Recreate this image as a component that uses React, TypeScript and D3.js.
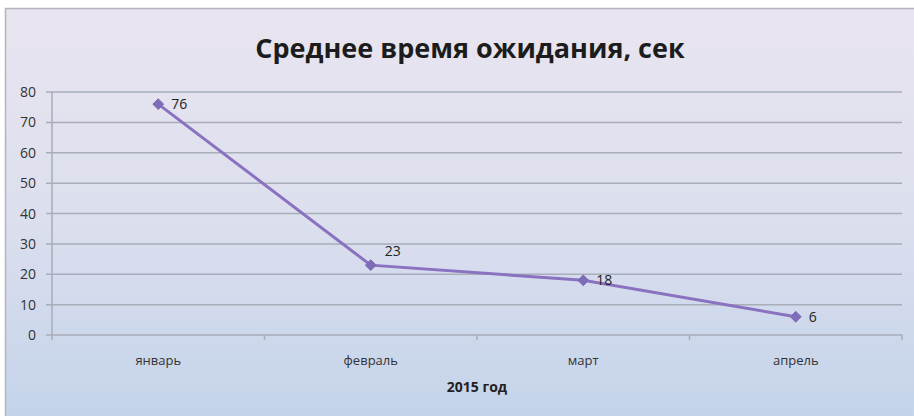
import React from "react";
import * as d3 from "d3";

const categories = ["январь", "февраль", "март", "апрель"];
const values = [76, 23, 18, 6];
const yTicks = [0, 10, 20, 30, 40, 50, 60, 70, 80];
const labelPlacement = ["right", "above", "right", "right"];
const title = "Среднее время ожидания, сек";
const xTitle = "2015 год";

const W = 914;
const H = 416;
const M = { left: 52, right: 902, top: 92, bottom: 335 };

export default function App() {
  const x = d3.scaleBand<string>().domain(categories).range([M.left, M.right]);
  const y = d3.scaleLinear().domain([0, 80]).range([M.bottom, M.top]);
  const pts = values.map((v, i) => [x(categories[i])! + x.bandwidth() / 2, y(v)] as [number, number]);
  const line = d3.line()(pts) ?? "";
  const diamond = d3.symbol().type((d3 as any).symbolDiamond2 ?? d3.symbolDiamond).size(75)() ?? "";
  const font = "'Open Sans', 'DejaVu Sans', sans-serif";
  const boundaries = categories.map((_, i) => M.left + x.step() * i).concat([M.right]);

  return (
    <svg
      width={W}
      height={H}
      style={{ position: "absolute", left: 0, top: 0, display: "block" }}
      fontFamily={font}
    >
      <defs>
        <linearGradient id="bg" x1="0" y1="0" x2="0" y2="1">
          <stop offset="0" stopColor="#e9e5f0" />
          <stop offset="0.5" stopColor="#dcdfee" />
          <stop offset="1" stopColor="#c3d3ea" />
        </linearGradient>
      </defs>
      <rect x={0} y={0} width={W} height={H} fill="#ffffff" />
      <rect x={5.5} y={8.5} width={W} height={H} fill="url(#bg)" stroke="#b4b4bc" strokeWidth={1.5} />
      <text x={470} y={58} textAnchor="middle" fontSize={27} fontWeight="bold" fill="#1c1c1c">
        {title}
      </text>
      {yTicks.map((t) => (
        <g key={t}>
          <line x1={M.left - 6} x2={M.right} y1={y(t)} y2={y(t)} stroke="#a7adb9" strokeWidth={1.5} />
          <text x={36} y={y(t) + 5} textAnchor="end" fontSize={14} fill="#333">
            {t}
          </text>
        </g>
      ))}
      <line x1={M.left} x2={M.left} y1={M.top} y2={M.bottom} stroke="#a7adb9" strokeWidth={1.5} />
      {boundaries.map((b, i) => (
        <line key={i} x1={b} x2={b} y1={M.bottom} y2={M.bottom + 5} stroke="#a7adb9" strokeWidth={1.5} />
      ))}
      {categories.map((c) => (
        <text key={c} x={x(c)! + x.bandwidth() / 2} y={365} textAnchor="middle" fontSize={13} fill="#333">
          {c}
        </text>
      ))}
      <text x={(M.left + M.right) / 2} y={392} textAnchor="middle" fontSize={14} fontWeight="bold" fill="#222">
        {xTitle}
      </text>
      <path d={line} fill="none" stroke="#8a72c0" strokeWidth={3} />
      {pts.map(([px, py], i) => (
        <path key={i} d={diamond} transform={`translate(${px},${py})`} fill="#7f6cb8" stroke="#7f6cb8" strokeLinejoin="round" />
      ))}
      {pts.map(([px, py], i) => {
        const above = labelPlacement[i] === "above";
        return (
          <text
            key={i}
            x={above ? px + 22 : px + 13}
            y={above ? py - 9 : py + 5}
            textAnchor={above ? "middle" : "start"}
            fontSize={14}
            fill="#222"
          >
            {values[i]}
          </text>
        );
      })}
    </svg>
  );
}
